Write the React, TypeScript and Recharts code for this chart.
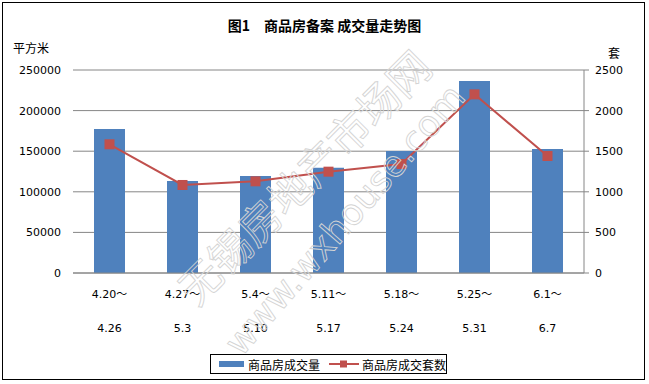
import React from "react"
import { ComposedChart, Bar, Line, XAxis, YAxis, CartesianGrid } from "recharts"

// week ranges, split into the two label lines
const weekStart = ["4.20～", "4.27～", "5.4～", "5.11～", "5.18～", "5.25～", "6.1～"]
const weekEnd = ["4.26", "5.3", "5.10", "5.17", "5.24", "5.31", "6.7"]

// 成交面积 (平方米) and 成交套数 (套)
const areaSold = [177300, 113300, 119500, 129700, 150200, 236400, 152700]
const unitsSold = [1585, 1084, 1129, 1248, 1342, 2200, 1441]

const areaTicks = [0, 50000, 100000, 150000, 200000, 250000]
const unitTicks = [0, 500, 1000, 1500, 2000, 2500]

const barName = "商品房成交量"
const lineName = "商品房成交套数"
const title = "图1　商品房备案 成交量走势图"

const BLUE = "#4F81BD"
const RED = "#C0504D"
const GRID = "#868686"
const NUM_FONT = "'DejaVu Sans', 'Noto Sans CJK SC', sans-serif"
const CJK_FONT = "'Noto Sans CJK SC', sans-serif"

const data = weekStart.map((start, i) => ({
  start,
  end: weekEnd[i],
  area: areaSold[i],
  units: unitsSold[i],
}))

function WeekTick(props: any) {
  const { x, y, payload, index } = props
  return (
    <text x={x} textAnchor="middle" fontSize={11} fontFamily={NUM_FONT} fill="#000">
      <tspan x={x} y={y + 17}>{payload.value}</tspan>
      <tspan x={x} y={y + 51}>{weekEnd[index]}</tspan>
    </text>
  )
}

function SquareDot(props: any) {
  const { cx, cy, index } = props
  return <rect key={`dot-${index}`} x={cx - 5} y={cy - 5} width={10} height={10} fill={RED} />
}

export default function App() {
  return (
    <div
      style={{
        position: "absolute",
        left: 0,
        top: 0,
        width: 649,
        height: 384,
        background: "#fff",
        fontFamily: CJK_FONT,
      }}
    >
      <div
        style={{
          position: "absolute",
          left: 2,
          top: 2,
          width: 641,
          height: 376,
          border: "1px solid #000",
        }}
      />
      <div
        style={{
          position: "absolute",
          left: 0,
          width: 649,
          top: 15,
          textAlign: "center",
          fontSize: 14,
          fontWeight: "bold",
          color: "#000",
          lineHeight: "20px",
        }}
      >
        {title}
      </div>
      <div style={{ position: "absolute", left: 13, top: 39, fontSize: 12, lineHeight: "18px" }}>平方米</div>
      <div style={{ position: "absolute", left: 608, top: 44, fontSize: 12, lineHeight: "18px" }}>套</div>

      <ComposedChart
        width={649}
        height={384}
        data={data}
        margin={{ top: 70, right: 0, left: 8, bottom: 41 }}
        style={{ position: "absolute", left: 0, top: 0 }}
      >
        <CartesianGrid yAxisId="left" vertical={false} stroke={GRID} />
        <XAxis
          dataKey="start"
          tick={<WeekTick />}
          tickLine={false}
          axisLine={{ stroke: GRID }}
          height={70}
          interval={0}
        />
        <YAxis
          yAxisId="left"
          width={65}
          domain={[0, 250000]}
          ticks={areaTicks}
          tickLine={false}
          axisLine={false}
          tickMargin={6}
          tick={{ fontSize: 11, fill: "#000", fontFamily: NUM_FONT }}
        />
        <YAxis
          yAxisId="right"
          orientation="right"
          width={65}
          domain={[0, 2500]}
          ticks={unitTicks}
          axisLine={{ stroke: GRID }}
          tickLine={{ stroke: GRID }}
          tickSize={5}
          tickMargin={6}
          tick={{ fontSize: 11, fill: "#000", fontFamily: NUM_FONT, textAnchor: "start" }}
        />
        <Bar yAxisId="left" dataKey="area" name={barName} fill={BLUE} barSize={31} isAnimationActive={false} />
        <Line
          yAxisId="right"
          dataKey="units"
          name={lineName}
          type="linear"
          stroke={RED}
          strokeWidth={2}
          dot={SquareDot}
          activeDot={false}
          isAnimationActive={false}
        />
      </ComposedChart>

      {/* watermark */}
      <svg width={649} height={384} style={{ position: "absolute", left: 0, top: 0, pointerEvents: "none" }}>
        <text
          x={305}
          y={193}
          textAnchor="middle"
          fontSize={42}
          fontFamily={CJK_FONT}
          fill="none"
          stroke="#d4d4d4"
          strokeWidth={0.9}
          transform="rotate(-45 305 178)"
        >
          无锡房地产市场网
        </text>
        <text
          x={345}
          y={232}
          textAnchor="middle"
          fontSize={36}
          fontFamily={NUM_FONT}
          fill="none"
          stroke="#d4d4d4"
          strokeWidth={0.9}
          transform="rotate(-49 345 220)"
        >
          www.wxhouse.com
        </text>
      </svg>

      {/* legend */}
      <div
        style={{
          position: "absolute",
          left: 210,
          top: 354,
          width: 235,
          height: 18,
          border: "1px solid #000",
          display: "flex",
          alignItems: "center",
          fontSize: 12,
          color: "#000",
          whiteSpace: "nowrap",
        }}
      >
        <span style={{ display: "inline-block", width: 25, height: 6, background: BLUE, marginLeft: 8, marginRight: 4 }} />
        <span>{barName}</span>
        <svg width={30} height={10} style={{ marginLeft: 9, marginRight: 3 }}>
          <line x1={0} y1={5} x2={30} y2={5} stroke={RED} strokeWidth={2} />
          <rect x={11} y={1.5} width={7} height={7} fill={RED} />
        </svg>
        <span>{lineName}</span>
      </div>
    </div>
  )
}
